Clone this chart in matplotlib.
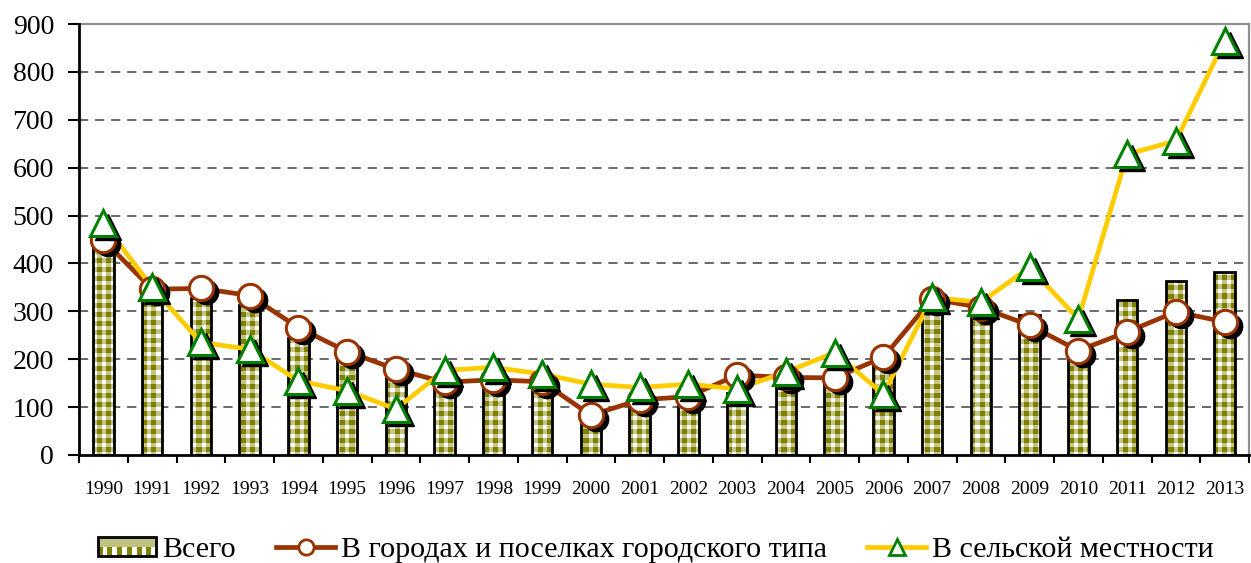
import numpy as np
import matplotlib
matplotlib.use("Agg")
import matplotlib.pyplot as plt
from matplotlib.transforms import offset_copy
from matplotlib.lines import Line2D
from matplotlib.patches import Rectangle
from matplotlib.legend_handler import HandlerPatch

years = ["1990", "1991", "1992", "1993", "1994", "1995", "1996", "1997", "1998", "1999",
         "2000", "2001", "2002", "2003", "2004", "2005", "2006", "2007", "2008", "2009",
         "2010", "2011", "2012", "2013"]
total = [440, 330, 328, 313, 245, 200, 165, 146, 155, 150,
         78, 110, 120, 130, 155, 160, 192, 303, 296, 292,
         215, 324, 363, 383]
urban = [449, 346, 348, 333, 266, 216, 179, 152, 157, 153,
         83, 115, 122, 167, 162, 161, 204, 326, 308, 271,
         218, 257, 299, 278]
rural = [485, 350, 235, 221, 155, 134, 96, 177, 183, 169,
         148, 141, 148, 138, 173, 214, 127, 329, 319, 392,
         284, 628, 656, 865]
series_names = ["Всего", "В городах и поселках городского типа", "В сельской местности"]
yticks = [0, 100, 200, 300, 400, 500, 600, 700, 800, 900]

OLIVE = "#808000"
BROWN = "#993300"
YELLOW = "#FFCC00"
GREEN = "#008000"

plt.rcParams["font.family"] = ["Liberation Serif", "DejaVu Serif"]

fig = plt.figure(figsize=(12.51, 5.63), dpi=100)
ax = fig.add_axes([79 / 1251, 1 - 455 / 563, (1249 - 79) / 1251, (455 - 24) / 563])

x = np.arange(len(years))
xmin, xmax, ymin, ymax = -0.5, len(years) - 0.5, 0, 900

# checkered (gingham) pattern image, pixel based
H, W = 431, 1170
ii, jj = np.mgrid[0:H, 0:W]
sy = (ii % 9) < 5
sx = (jj % 9) < 5
pat = np.ones((H, W, 3))
both = sy & sx
one = sy ^ sx
pat[both] = np.array([128, 128, 0]) / 255
pat[one] = np.array([196, 196, 132]) / 255

bars = ax.bar(x, total, width=0.42, facecolor="none", edgecolor="black",
              linewidth=2, zorder=3)
for b in bars:
    im = ax.imshow(pat, extent=(xmin, xmax, ymin, ymax), aspect="auto",
                   interpolation="nearest", zorder=2, origin="upper")
    im.set_clip_path(b)

# grid
for v in yticks[1:-1]:
    ax.axhline(v, color="#404040", lw=1.1, dashes=(6, 4.5), zorder=1)

shadow = offset_copy(ax.transData, fig=fig, x=5, y=-4, units="dots")

ax.plot(x, urban, color=BROWN, lw=3.4, zorder=4)
ax.plot(x, rural, color=YELLOW, lw=3.4, zorder=5)
ax.plot(x, urban, ls="none", marker="o", ms=17.5, color="black", transform=shadow, zorder=6)
ax.plot(x, urban, ls="none", marker="o", ms=17.5, mfc="white", mec=BROWN, mew=2.2, zorder=7)
ax.plot(x, rural, ls="none", marker="^", ms=19, color="black", transform=shadow, zorder=8)
ax.plot(x, rural, ls="none", marker="^", ms=19, mfc="white", mec=GREEN, mew=2.2, zorder=9)

ax.set_xlim(xmin, xmax)
ax.set_ylim(ymin, ymax)

ax.set_yticks(yticks)
ax.set_yticklabels([str(v) for v in yticks], fontsize=20)
ax.tick_params(axis="y", direction="out", length=8, width=1.5, pad=10)
ax.set_xticks(x)
ax.set_xticklabels(years, fontsize=14)
ax.set_xticks(np.arange(-0.5, len(years), 1), minor=True)
ax.tick_params(axis="x", which="major", length=0, pad=19)
ax.tick_params(axis="x", which="minor", direction="out", length=6, width=1.5)

for s in ["left", "bottom"]:
    ax.spines[s].set_color("black")
    ax.spines[s].set_linewidth(2)
    ax.spines[s].set_zorder(10)
for s in ["top", "right"]:
    ax.spines[s].set_color("#909090")
    ax.spines[s].set_linewidth(1.6)


class CheckHandler(HandlerPatch):
    def create_artists(self, legend, orig_handle, xdescent, ydescent, width, height,
                       fontsize, trans):
        arts = []
        bg = Rectangle((-xdescent, -ydescent), width, height, facecolor="#c2c280",
                       edgecolor="none", transform=trans)
        arts.append(bg)
        n = 6
        cw = width / n
        for k in range(n):
            arts.append(Rectangle((-xdescent + k * cw + cw * 0.5, -ydescent), cw * 0.5,
                                  height * 0.45, facecolor="white", edgecolor="none",
                                  transform=trans))
            arts.append(Rectangle((-xdescent + k * cw, -ydescent), cw * 0.5,
                                  height * 0.45, facecolor=OLIVE, edgecolor="none",
                                  transform=trans))
        arts.append(Rectangle((-xdescent, -ydescent), width, height, facecolor="none",
                              edgecolor="black", lw=2, transform=trans))
        return arts


h_bar = Rectangle((0, 0), 1, 1)
h_urb = Line2D([], [], color=BROWN, lw=3.4, marker="o", ms=11, mfc="white", mec=BROWN, mew=2)
h_rur = Line2D([], [], color=YELLOW, lw=3.4, marker="^", ms=12, mfc="white", mec=GREEN, mew=2)
fig.legend([h_bar, h_urb, h_rur], series_names, loc="center",
           bbox_to_anchor=(0.524, 0.023), ncol=3, frameon=False, fontsize=21.6,
           handlelength=1.95, handleheight=0.6, handletextpad=0.2, columnspacing=1.35,
           handler_map={Rectangle: CheckHandler()})

fig.savefig("out.png", dpi=100)
